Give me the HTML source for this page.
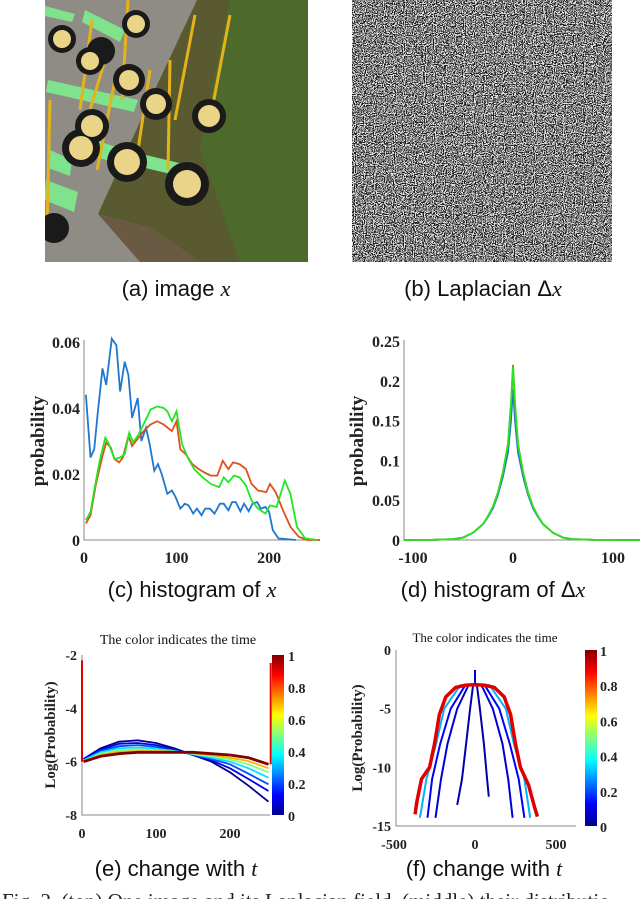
<!DOCTYPE html>
<html><head><meta charset="utf-8"><style>
body{margin:0;background:#fff;}
svg{display:block;}
.tk{font-family:"Liberation Serif",serif;font-weight:bold;font-size:16px;fill:#222;}
.tk2{font-family:"Liberation Serif",serif;font-weight:bold;font-size:14px;fill:#222;}
.cap{font-family:"Liberation Sans",sans-serif;font-size:22px;fill:#111;}
.mx{font-family:"Liberation Serif",serif;font-style:italic;}
.ttl{font-family:"Liberation Serif",serif;font-size:14px;fill:#111;}
</style></head><body>
<svg id="fig" width="640" height="899" viewBox="0 0 640 899">
<defs>
<linearGradient id="jet" x1="0" y1="1" x2="0" y2="0">
<stop offset="0" stop-color="#00008f"/><stop offset="0.125" stop-color="#0000ff"/><stop offset="0.375" stop-color="#00ffff"/><stop offset="0.625" stop-color="#ffff00"/><stop offset="0.875" stop-color="#ff0000"/><stop offset="1" stop-color="#800000"/>
</linearGradient>
<filter id="noise" x="0" y="0" width="100%" height="100%">
<feTurbulence type="fractalNoise" baseFrequency="0.9" numOctaves="1" seed="3"/>
<feColorMatrix type="saturate" values="0"/>
<feComponentTransfer><feFuncR type="discrete" tableValues="0 1"/><feFuncG type="discrete" tableValues="0 1"/><feFuncB type="discrete" tableValues="0 1"/><feFuncA type="discrete" tableValues="1"/></feComponentTransfer>
</filter>
<clipPath id="clipA"><rect x="45" y="0" width="263" height="262"/></clipPath>
</defs>

<g id="imgA" clip-path="url(#clipA)">
<rect x="45" y="0" width="263" height="262" fill="#8e8c84"/>
<polygon points="197,0 308,0 308,262 200,262 150,228 98,214 150,100" fill="#5a5a30"/>
<polygon points="230,0 308,0 308,262 240,262 200,150" fill="#4e6a2a"/>
<polygon points="98,214 150,228 200,262 140,262" fill="#6a5a44"/>
<g fill="#7ee38c">
<polygon points="125,150 200,168 196,180 120,162"/>
<polygon points="80,135 140,155 136,170 76,150"/><polygon points="48,80 138,100 134,112 46,92"/>
<polygon points="50,150 72,160 70,176 48,168"/><polygon points="46,180 78,192 74,212 44,200"/>
<polygon points="85,10 125,30 120,42 82,22"/><polygon points="45,6 75,14 72,22 45,16"/>
</g>
<g stroke="#e5b21a" stroke-width="3" fill="none">
<line x1="170" y1="60" x2="168" y2="170"/><line x1="230" y1="15" x2="210" y2="120"/><line x1="150" y1="70" x2="138" y2="150"/>
<line x1="115" y1="80" x2="97" y2="170"/><line x1="92" y1="20" x2="80" y2="110"/><line x1="105" y1="60" x2="78" y2="150"/>
<line x1="195" y1="15" x2="175" y2="120"/><line x1="128" y1="0" x2="122" y2="100"/><line x1="50" y1="100" x2="47" y2="230"/>
</g>
<g fill="#1a1a1a">
<circle cx="127" cy="162" r="20"/><circle cx="187" cy="184" r="22"/><circle cx="81" cy="148" r="19"/>
<circle cx="92" cy="126" r="17"/><circle cx="156" cy="104" r="16"/><circle cx="209" cy="116" r="17"/>
<circle cx="129" cy="80" r="16"/><circle cx="90" cy="61" r="14"/><circle cx="101" cy="51" r="14"/>
<circle cx="62" cy="39" r="14"/><circle cx="136" cy="24" r="14"/><circle cx="54" cy="228" r="15"/>
</g>
<g fill="#e9d487">
<circle cx="127" cy="162" r="13"/><circle cx="187" cy="184" r="14"/><circle cx="81" cy="148" r="12"/>
<circle cx="92" cy="126" r="11"/><circle cx="156" cy="104" r="10"/><circle cx="209" cy="116" r="11"/>
<circle cx="129" cy="80" r="10"/><circle cx="90" cy="61" r="9"/><circle cx="62" cy="39" r="9"/><circle cx="136" cy="24" r="9"/>
</g>
</g>

<g id="imgB">
<rect x="352" y="0" width="260" height="262" fill="#888" filter="url(#noise)"/>
<rect x="352" y="0" width="260" height="262" fill="#808080" opacity="0.25"/>
</g>

<text class="cap" x="176" y="296" text-anchor="middle">(a) image <tspan class="mx">x</tspan></text>
<text class="cap" x="483" y="296" text-anchor="middle">(b) Laplacian Δ<tspan class="mx">x</tspan></text>
<text class="cap" x="192" y="597" text-anchor="middle">(c) histogram of <tspan class="mx">x</tspan></text>
<text class="cap" x="493" y="597" text-anchor="middle">(d) histogram of Δ<tspan class="mx">x</tspan></text>
<text class="cap" x="176" y="876" text-anchor="middle">(e) change with <tspan class="mx">t</tspan></text>
<text class="cap" x="484" y="876" text-anchor="middle">(f) change with <tspan class="mx">t</tspan></text>
<text x="2" y="908" style="font-family:'Liberation Serif',serif;font-size:21px;fill:#222">Fig. 2.   (top) One image and its Laplacian field, (middle) their distributio</text>

<g id="plotC"></g>
<g id="plotD"></g>
<g id="plotE"></g>
<g id="plotF"></g>
</svg>
<script>
const cBlueX=[2,7,11,15,20,24,30,35,39,44,48,52,58,62,67,71,76,80,84,90,95,99,104,109,113,118,122,127,131,136,141,147,151,156,160,164,169,173,178,182,187,191,196,200,204,210,229];
const cBlueY=[0.044,0.025,0.0275,0.039,0.052,0.047,0.061,0.059,0.045,0.054,0.050,0.037,0.043,0.030,0.034,0.029,0.021,0.023,0.020,0.014,0.015,0.013,0.0095,0.011,0.0105,0.008,0.0095,0.0075,0.0095,0.0095,0.008,0.011,0.011,0.009,0.0115,0.0115,0.0087,0.011,0.0087,0.011,0.0115,0.0095,0.010,0.0085,0.003,0.0005,0];
const cRedX=[2,7,13,20,24,29,33,38,42,48,52,59,66,72,79,86,95,100,104,110,117,124,130,137,144,150,156,161,168,175,181,188,197,201,207,215,223,232,241,255];
const cRedY=[0.005,0.0075,0.017,0.0255,0.0295,0.028,0.0245,0.0235,0.025,0.0315,0.0285,0.031,0.0335,0.035,0.036,0.035,0.033,0.036,0.0275,0.026,0.023,0.0215,0.0205,0.0195,0.0195,0.024,0.0215,0.0235,0.023,0.0215,0.017,0.015,0.0145,0.017,0.0145,0.009,0.004,0.001,0,0];
const cGreenX=[2,7,13,17,23,27,33,39,44,49,53,59,66,72,79,86,90,95,100,106,112,119,128,137,146,151,156,162,168,175,181,188,196,201,208,217,223,230,239,252];
const cGreenY=[0.006,0.0085,0.018,0.024,0.031,0.029,0.0245,0.025,0.026,0.0325,0.0295,0.032,0.036,0.0395,0.0405,0.040,0.039,0.036,0.039,0.029,0.025,0.0215,0.019,0.017,0.016,0.019,0.0175,0.0195,0.019,0.0165,0.012,0.0095,0.008,0.0105,0.010,0.018,0.014,0.004,0.0005,0];
const cXTicks=[0,100,200];
const cYTicks=[0,0.02,0.04,0.06];
const cYLabels=["0","0.02","0.04","0.06"];
const dX=[-130,-80,-60,-50,-40,-30,-25,-20,-15,-10,-5,-2,0,2,5,10,15,20,25,30,40,50,60,80,130];
const dBlueY=[0,0.0002,0.001,0.003,0.009,0.02,0.029,0.04,0.057,0.08,0.11,0.15,0.19,0.15,0.11,0.08,0.057,0.04,0.029,0.02,0.009,0.003,0.001,0.0002,0];
const dRedY=[0,0.0002,0.001,0.003,0.009,0.02,0.03,0.042,0.06,0.085,0.12,0.17,0.22,0.17,0.12,0.085,0.06,0.042,0.03,0.02,0.009,0.003,0.001,0.0002,0];
const dGreenY=[0,0.0002,0.001,0.003,0.009,0.02,0.03,0.042,0.06,0.086,0.121,0.172,0.218,0.172,0.121,0.086,0.06,0.042,0.03,0.02,0.009,0.003,0.001,0.0002,0];
const dXTicks=[-100,0,100];
const dYTicks=[0,0.05,0.1,0.15,0.2,0.25];
const dYLabels=["0","0.05","0.1","0.15","0.2","0.25"];
const eX=[2,25,50,75,100,125,150,175,200,225,252];
const eTimes=[0,0.1,0.2,0.35,0.5,0.7,1];
const eS0=[-5.9,-5.5,-5.25,-5.2,-5.3,-5.5,-5.75,-6.0,-6.4,-6.9,-7.5];
const eS1=[-5.9,-5.55,-5.33,-5.3,-5.38,-5.55,-5.75,-5.95,-6.25,-6.65,-7.1];
const eS2=[-5.95,-5.6,-5.42,-5.38,-5.45,-5.58,-5.73,-5.9,-6.1,-6.45,-6.85];
const eS3=[-5.95,-5.65,-5.5,-5.47,-5.52,-5.6,-5.72,-5.85,-6.0,-6.25,-6.6];
const eS4=[-6.0,-5.7,-5.57,-5.53,-5.57,-5.62,-5.7,-5.8,-5.92,-6.1,-6.4];
const eS5=[-6.0,-5.75,-5.63,-5.6,-5.6,-5.63,-5.68,-5.75,-5.85,-5.98,-6.25];
const eS6=[-6.0,-5.8,-5.7,-5.65,-5.65,-5.65,-5.65,-5.7,-5.75,-5.85,-6.1];
const eSpikeX=[0,255];
const eSpikeTop=[-2.2,-2.3];
const eSpikeBottom=[-6.0,-6.1];
const eXTicks=[0,100,200];
const eYTicks=[-8,-6,-4,-2];
const cbTicks=[0,0.2,0.4,0.6,0.8,1];
const cbLabels=["0","0.2","0.4","0.6","0.8","1"];
const fRedX=[-370,-360,-330,-280,-250,-220,-180,-120,-60,0,60,120,180,220,250,280,330,370,385];
const fRedY=[-14,-13,-11,-10,-8,-5.5,-4,-3.2,-3,-2.95,-3,-3.2,-4,-5.5,-8,-10,-11.5,-13.5,-14.2];
const fTimes=[0.03,0.08,0.12,0.3];
const fB1X=[-110,-80,-55,-30,-12,12,30,55,75,85];
const fB1Y=[-13.2,-11,-8,-5,-3,-3,-5,-8,-11,-12.5];
const fB2X=[-244,-210,-170,-110,-40,40,110,170,205,232];
const fB2Y=[-14.3,-11,-8,-5,-3,-3,-5,-8,-11,-14.3];
const fB3X=[-293,-265,-215,-150,-60,60,150,215,270,305];
const fB3Y=[-14.3,-11,-8,-5,-3,-3,-5,-8,-11,-14.3];
const fB4X=[-340,-300,-240,-190,-90,90,190,240,305,341];
const fB4Y=[-14.3,-11,-8,-5,-3,-3,-5,-8,-11,-14.3];
const fSpikeY=[-3,-1.7];
const fXTicks=[-500,0,500];
const fYTicks=[-15,-10,-5,0];

const NS="http://www.w3.org/2000/svg";
function mk(parent,tag,attrs){const e=document.createElementNS(NS,tag);for(const k in attrs)e.setAttribute(k,attrs[k]);parent.appendChild(e);return e;}
function lin(d0,d1,r0,r1){return v=>r0+(v-d0)/(d1-d0)*(r1-r0);}
function jet(t){
  const stops=[[0,[0,0,143]],[0.125,[0,0,255]],[0.375,[0,255,255]],[0.625,[255,255,0]],[0.875,[255,0,0]],[1,[128,0,0]]];
  for(let i=1;i<stops.length;i++){if(t<=stops[i][0]){const a=stops[i-1],b=stops[i];const f=(t-a[0])/(b[0]-a[0]);const c=a[1].map((v,j)=>Math.round(v+(b[1][j]-v)*f));return `rgb(${c[0]},${c[1]},${c[2]})`;}}
  return "rgb(128,0,0)";
}
function pathD(xs,ys,sx,sy){return xs.map((x,i)=>(i?"L":"M")+sx(x).toFixed(1)+","+sy(ys[i]).toFixed(1)).join("");}
function axes(g,x0,y0,x1,y1){
  const a=mk(g,"path",{d:`M${x0},${y1}L${x0},${y0}L${x1},${y0}`,fill:"none",stroke:"#888","stroke-width":1});
  
  
}
function tickLabel(g,x,y,txt,anchor,cls){
  const t=mk(g,"text",{x:x,y:y,"text-anchor":anchor,class:cls});t.textContent=txt;
  
  
}
(function(){
  const g=document.getElementById("plotC");
  const sx=lin(0,255,84,320), sy=lin(0,0.06,540,342);
  axes(g,84,540,320,340);
  cXTicks.forEach(v=>tickLabel(g,sx(v),563,String(v),"middle","tk"));
  cYTicks.forEach((v,i)=>tickLabel(g,80,sy(v)+6,cYLabels[i],"end","tk"));
  const yl=mk(g,"text",{x:0,y:0,transform:"translate(44,441) rotate(-90)","text-anchor":"middle",class:"tk",style:"font-size:19px"});yl.textContent="probability";
  
  
  [[cBlueX,cBlueY,"#1f77d0","series-blue"],[cRedX,cRedY,"#e0501e","series-red"],[cGreenX,cGreenY,"#22e622","series-green"]].forEach(s=>{
    const p=mk(g,"path",{d:pathD(s[0],s[1],sx,sy),fill:"none",stroke:s[2],"stroke-width":1.8});
    
    
  });
})();
(function(){
  const g=document.getElementById("plotD");
  const sx=lin(-100,100,413,613), sy=lin(0,0.25,540,341);
  axes(g,404,540,640,340);
  dXTicks.forEach(v=>tickLabel(g,sx(v),563,String(v),"middle","tk"));
  dYTicks.forEach((v,i)=>tickLabel(g,400,sy(v)+6,dYLabels[i],"end","tk"));
  const yl=mk(g,"text",{x:0,y:0,transform:"translate(363,441) rotate(-90)","text-anchor":"middle",class:"tk",style:"font-size:19px"});yl.textContent="probability";
  
  
  [[dBlueY,"#1f77d0","series-blue"],[dRedY,"#e0501e","series-red"],[dGreenY,"#22e622","series-green"]].forEach(s=>{
    const xs=dX.map(v=>Math.max(-109,Math.min(127,v)));
    const p=mk(g,"path",{d:pathD(xs,s[0],sx,sy),fill:"none",stroke:s[1],"stroke-width":1.8});
    
    
  });
})();
function colorbar(g,x,y0,y1,lx){
  const r=mk(g,"rect",{x:x,y:y0,width:12,height:y1-y0,fill:"url(#jet)"});
  
  
  const s=lin(0,1,y1,y0);
  cbTicks.forEach((v,i)=>tickLabel(g,lx,s(v)+6,cbLabels[i],"start","tk2"));
}
(function(){
  const g=document.getElementById("plotE");
  const sx=lin(0,100,82,156), sy=lin(-2,-8,655,815);
  axes(g,82,815,270,655);
  eXTicks.forEach(v=>tickLabel(g,sx(v),838,String(v),"middle","tk2"));
  eYTicks.forEach(v=>tickLabel(g,77,sy(v)+5,String(v),"end","tk2"));
  const yl=mk(g,"text",{x:0,y:0,transform:"translate(55,735) rotate(-90)","text-anchor":"middle",class:"tk2",style:"font-size:15px"});yl.textContent="Log(Probability)";
  
  
  const tt=mk(g,"text",{x:178,y:644,"text-anchor":"middle",class:"ttl"});tt.textContent="The color indicates the time";
  
  
  const series=[eS0,eS1,eS2,eS3,eS4,eS5,eS6];
  series.forEach((ys,i)=>{
    const p=mk(g,"path",{d:pathD(eX,ys,sx,sy),fill:"none",stroke:jet(eTimes[i]),"stroke-width":i===series.length-1?2.8:1.8});
    
    
  });
  eSpikeX.forEach((v,i)=>{
    const l=mk(g,"line",{x1:sx(v),x2:sx(v),y1:sy(eSpikeBottom[i]),y2:sy(eSpikeTop[i]),stroke:"#e00000","stroke-width":2});
    
    
  });
  colorbar(g,272,655,815,288);
})();
(function(){
  const g=document.getElementById("plotF");
  const sx=lin(0,500,475,556), sy=lin(0,-15,650,826);
  axes(g,396,826,576,650);
  fXTicks.forEach(v=>tickLabel(g,sx(v),849,String(v),"middle","tk2"));
  fYTicks.forEach(v=>tickLabel(g,391,sy(v)+5,String(v),"end","tk2"));
  const yl=mk(g,"text",{x:0,y:0,transform:"translate(362,738) rotate(-90)","text-anchor":"middle",class:"tk2",style:"font-size:15px"});yl.textContent="Log(Probability)";
  
  
  const tt=mk(g,"text",{x:485,y:642,"text-anchor":"middle",class:"ttl",style:"font-size:13px"});tt.textContent="The color indicates the time";
  
  
  const blues=[[fB1X,fB1Y],[fB2X,fB2Y],[fB3X,fB3Y],[fB4X,fB4Y]];
  blues.forEach((s,i)=>{
    const p=mk(g,"path",{d:pathD(s[0],s[1],sx,sy),fill:"none",stroke:jet(fTimes[i]),"stroke-width":2});
    
    
  });
  const sp=mk(g,"line",{x1:sx(0),x2:sx(0),y1:sy(fSpikeY[0]),y2:sy(fSpikeY[1]),stroke:"#0000cc","stroke-width":2});
  
  
  const r=mk(g,"path",{d:pathD(fRedX,fRedY,sx,sy),fill:"none",stroke:"#e00000","stroke-width":3.5});
  
  
  colorbar(g,585,650,826,600);
})();
</script>
</body></html>
